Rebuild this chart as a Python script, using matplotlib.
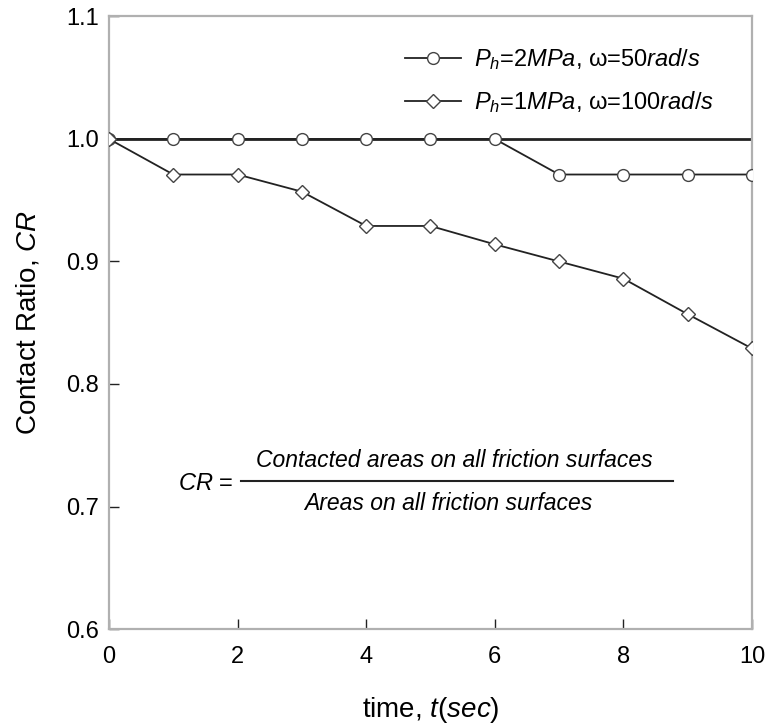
import numpy as np
import matplotlib
matplotlib.use("Agg")
import matplotlib.pyplot as plt
from matplotlib.lines import Line2D

# --- Data ---
time_s = [0, 1, 2, 3, 4, 5, 6, 7, 8, 9, 10]
cr_2mpa = [1.0, 1.0, 1.0, 1.0, 1.0, 1.0, 1.0, 0.971, 0.971, 0.971, 0.971]
cr_1mpa = [1.0, 0.971, 0.971, 0.957, 0.929, 0.929, 0.914, 0.900, 0.886, 0.857, 0.829]
cr_full = 1.0

label_2mpa = r"$P_h$=2$MPa$, ω=50$rad/s$"
label_1mpa = r"$P_h$=1$MPa$, ω=100$rad/s$"

# --- Style ---
plt.rcParams["font.family"] = ["Liberation Sans", "DejaVu Sans"]
plt.rcParams["mathtext.fontset"] = "custom"
plt.rcParams["mathtext.rm"] = "Liberation Sans"
plt.rcParams["mathtext.it"] = "Liberation Sans:italic"

fig = plt.figure(figsize=(7.67, 7.26), dpi=100)
ax = fig.add_axes([0.1421, 0.1336, 0.8383, 0.8437])

ax.axhline(cr_full, color="#222222", lw=2.0, zorder=1)
ax.plot(time_s, cr_2mpa, color="#222222", lw=1.3, marker="o", ms=8.5,
        mfc="white", mec="#444444", mew=1.0, label=label_2mpa, zorder=3)
ax.plot(time_s, cr_1mpa, color="#222222", lw=1.3, marker="D", ms=7.5,
        mfc="white", mec="#444444", mew=1.0, label=label_1mpa, zorder=3)

ax.set_xlim(0, 10)
ax.set_ylim(0.6, 1.1)
ax.set_xticks(np.arange(0, 11, 2))
ax.set_yticks(np.arange(0.6, 1.101, 0.1))
ax.set_yticklabels([f"{v:.1f}" for v in np.arange(0.6, 1.101, 0.1)])
ax.tick_params(direction="in", length=7, width=1.0, color="#222222",
               labelsize=17)
ax.tick_params(axis="x", pad=12)
ax.tick_params(axis="y", pad=7)
for s in ax.spines.values():
    s.set_color("#b0b0b0")
    s.set_linewidth(1.6)

ax.set_xlabel(r"time, $t$($sec$)", fontsize=20, labelpad=20)
ax.set_ylabel(r"Contact Ratio, $CR$", fontsize=20, labelpad=18)

ax.legend(loc="upper left", bbox_to_anchor=(0.461, 0.951), frameon=False,
          fontsize=17, handlelength=2.35, handletextpad=0.55,
          labelspacing=0.72, borderpad=0, borderaxespad=0)

# --- CR definition ---
ax.text(0.107, 0.227, r"$CR$ =", transform=ax.transAxes, fontsize=17,
        ha="left", va="baseline")
ax.add_line(Line2D([0.205, 0.877], [0.2416, 0.2416], transform=ax.transAxes,
                   color="#222222", lw=1.5))
ax.text(0.537, 0.2645, "Contacted areas on all friction surfaces",
        transform=ax.transAxes, fontsize=16.5, style="italic",
        ha="center", va="baseline")
ax.text(0.527, 0.194, "Areas on all friction surfaces",
        transform=ax.transAxes, fontsize=16.5, style="italic",
        ha="center", va="baseline")

fig.savefig("out.png", dpi=100)
